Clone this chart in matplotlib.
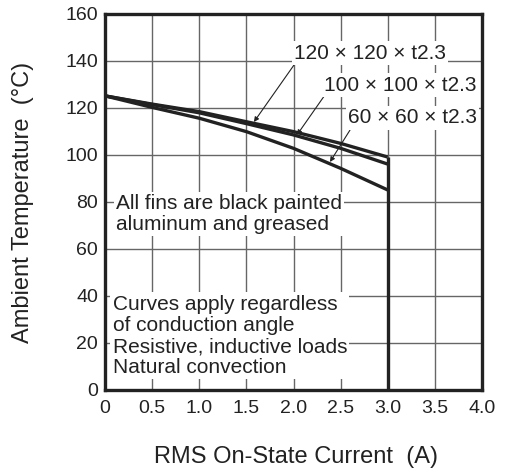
import matplotlib
matplotlib.use("Agg")
import matplotlib.pyplot as plt

plt.rcParams['font.family'] = ['Liberation Sans', 'DejaVu Sans']

# RMS on-state current (A)
current = [0.0, 0.5, 1.0, 1.5, 2.0, 2.5, 3.0]
# Allowable ambient temperature (°C) for each heat-sink size
temp_120 = [125, 121.5, 118.3, 114.0, 109.8, 104.8, 99]
temp_100 = [125, 121.3, 117.8, 113.2, 108.4, 102.7, 96]
temp_60 = [125, 120.1, 115.5, 109.8, 102.7, 94.2, 85]

fin_labels = ["120 × 120 × t2.3", "100 × 100 × t2.3", "60 × 60 × t2.3"]
x_ticks = [0, 0.5, 1.0, 1.5, 2.0, 2.5, 3.0, 3.5, 4.0]
x_tick_labels = ["0", "0.5", "1.0", "1.5", "2.0", "2.5", "3.0", "3.5", "4.0"]
y_ticks = [0, 20, 40, 60, 80, 100, 120, 140, 160]

INK = '#222222'

fig = plt.figure(figsize=(5.11, 4.74), dpi=100)
ax = fig.add_axes([105 / 511, 1 - 390 / 474, 377 / 511, 376.5 / 474])

ax.set_xlim(0, 4.0)
ax.set_ylim(0, 160)
ax.set_xticks(x_ticks)
ax.set_xticklabels(x_tick_labels)
ax.set_yticks(y_ticks)
ax.tick_params(length=0, labelsize=14, colors=INK)
ax.tick_params(axis='x', pad=7)
ax.tick_params(axis='y', pad=5)
ax.grid(True, color='#666666', linewidth=1.0, zorder=0)
for s in ax.spines.values():
    s.set_linewidth(2.4)
    s.set_color(INK)

line_kw = dict(color=INK, linewidth=2.4, solid_capstyle='butt', zorder=3)
ax.plot(current, temp_120, **line_kw)
ax.plot(current, temp_100, **line_kw)
ax.plot(current, temp_60, **line_kw)
# current limit at 3.0 A
ax.plot([current[-1], current[-1]], [0, temp_120[-1]], **line_kw)

box = dict(facecolor='white', edgecolor='none', pad=1.5)
text_kw = dict(fontsize=15, color=INK, zorder=5, bbox=box)

arrow = dict(arrowstyle='-|>', color=INK, linewidth=0.8,
             mutation_scale=7, shrinkA=0, shrinkB=0)

# heat-sink labels
ax.text(2.81, 143.2, fin_labels[0], ha='center', va='center', **text_kw)
ax.text(3.13, 129.6, fin_labels[1], ha='center', va='center', **text_kw)
ax.text(3.26, 115.6, fin_labels[2], ha='center', va='center', **text_kw)

# leader arrows from labels to curves
ax.annotate("", xy=(1.58, 113.9), xytext=(2.005, 138.1), arrowprops=arrow, zorder=4)
ax.annotate("", xy=(2.037, 108.4), xytext=(2.334, 125.4), arrowprops=arrow, zorder=4)
ax.annotate("", xy=(2.387, 96.9), xytext=(2.60, 110.5), arrowprops=arrow, zorder=4)

ax.text(0.117, 74.8, "All fins are black painted\naluminum and greased",
        ha='left', va='center', linespacing=1.15, **text_kw)
ax.text(0.08, 23.0, "Curves apply regardless\nof conduction angle\nResistive, inductive loads\nNatural convection",
        ha='left', va='center', linespacing=1.15, **text_kw)

fig.text(295.5 / 511, 1 - 457 / 474, "RMS On-State Current  (A)",
         fontsize=17, color=INK, ha='center', va='center')
fig.text(23.5 / 511, 1 - 202 / 474, "Ambient Temperature  (°C)",
         fontsize=17, color=INK, ha='center', va='center', rotation=90)

fig.savefig("out.png", dpi=100)
